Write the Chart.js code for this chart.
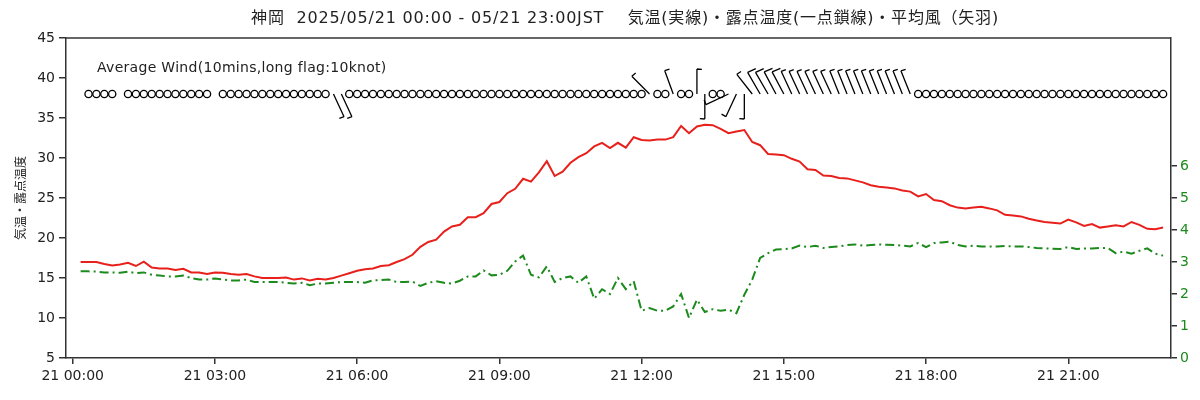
<!DOCTYPE html>
<html>
<head>
<meta charset="utf-8">
<script src="https://cdn.jsdelivr.net/npm/chart.js@4.4.1/dist/chart.umd.min.js"></script>
<style>
  html, body { margin: 0; padding: 0; background: #fff; }
</style>
</head>
<body>
<canvas id="myChart" width="1200" height="400"></canvas>
<script>
"use strict";

const ctx = document.getElementById("myChart");

const red = "#e8201c";
const green = "#1c8a1c";
const ink = "#222";
const fontFamily = "'DejaVu Sans', 'Noto Sans CJK JP', sans-serif";

// 10-minute observations, 00:10 .. 23:00 (one row per hour)
const temperature = [
  17.0, 17.0, 17.0, 16.75, 16.55, 16.7,
  16.9, 16.5, 17.05, 16.3, 16.2, 16.2,
  16.0, 16.15, 15.7, 15.7, 15.5, 15.7,
  15.65, 15.5, 15.4, 15.5, 15.2, 15.0,
  15.0, 15.0, 15.05, 14.8, 14.95, 14.7,
  14.9, 14.8, 15.0, 15.3, 15.6, 15.9,
  16.1, 16.2, 16.5, 16.6, 17.0, 17.35,
  17.9, 18.9, 19.5, 19.8, 20.8, 21.45,
  21.65, 22.6, 22.6, 23.1, 24.25, 24.5,
  25.6, 26.15, 27.4, 27.05, 28.2, 29.6,
  27.75, 28.3, 29.4, 30.1, 30.6, 31.45,
  31.9, 31.25, 31.9, 31.3, 32.6, 32.25,
  32.2, 32.3, 32.3, 32.6, 34.0, 33.1,
  33.95, 34.15, 34.1, 33.65, 33.1, 33.3,
  33.5, 32.0, 31.6, 30.5, 30.45, 30.35,
  29.9, 29.55, 28.6, 28.5, 27.8, 27.75,
  27.5, 27.45, 27.2, 26.95, 26.6, 26.4,
  26.3, 26.2, 25.95, 25.8, 25.2, 25.5,
  24.75, 24.6, 24.1, 23.8, 23.7, 23.8,
  23.9, 23.7, 23.45, 22.9, 22.8, 22.7,
  22.4, 22.2, 22.0, 21.9, 21.8, 22.3,
  21.95, 21.5, 21.75, 21.3, 21.45, 21.6,
  21.45, 22.0, 21.65, 21.15, 21.1, 21.3,
];

const dewPoint = [
  15.83, 15.83, 15.8, 15.7, 15.7, 15.65,
  15.8, 15.6, 15.7, 15.4, 15.3, 15.2,
  15.2, 15.3, 15.0, 14.8, 14.8, 14.95,
  14.8, 14.7, 14.7, 14.8, 14.5, 14.5,
  14.5, 14.5, 14.4, 14.3, 14.4, 14.1,
  14.3, 14.3, 14.4, 14.5, 14.5, 14.5,
  14.4, 14.7, 14.75, 14.8, 14.5, 14.5,
  14.55, 14.0, 14.4, 14.6, 14.4, 14.3,
  14.66, 15.2, 15.2, 15.95, 15.33, 15.41,
  15.9, 17.07, 17.8, 15.4, 15.07, 16.45,
  14.5, 15.0, 15.2, 14.4, 15.2, 12.4,
  13.6, 13.0, 15.0, 13.6, 14.6, 10.9,
  11.25, 10.9, 10.9, 11.45, 13.0, 10.0,
  12.3, 10.75, 11.1, 10.9, 11.05, 10.6,
  12.9, 14.8, 17.5, 18.1, 18.55, 18.6,
  18.7, 19.05, 18.87, 19.04, 18.75, 18.87,
  18.95, 19.12, 19.2, 19.04, 19.12, 19.2,
  19.16, 19.12, 19.04, 18.95, 19.37, 18.87,
  19.37, 19.45, 19.54, 19.12, 18.95, 19.04,
  18.95, 18.95, 18.95, 19.0, 18.95, 18.95,
  18.87, 18.75, 18.7, 18.66, 18.62, 18.87,
  18.62, 18.7, 18.7, 18.75, 18.75, 18.1,
  18.3, 18.04, 18.4, 18.7, 18.04, 17.8,
];

// average wind speed (knot): 0 = calm, null = missing
const windSpeed = [
  null, 0, 0, 0, 0, null,
  0, 0, 0, 0, 0, 0,
  0, 0, 0, 0, 0, null,
  0, 0, 0, 0, 0, 0,
  0, 0, 0, 0, 0, 0,
  0, 0, 5, 5, 0, 0,
  0, 0, 0, 0, 0, 0,
  0, 0, 0, 0, 0, 0,
  0, 0, 0, 0, 0, 0,
  0, 0, 0, 0, 0, 0,
  0, 0, 0, 0, 0, 0,
  0, 0, 0, 0, 0, 0,
  5, 0, 0, 5, 0, 0,
  5, 5, 0, 0, 5, 5,
  5, 5, 10, 10, 10, 10,
  5, 5, 5, 5, 5, 5,
  5, 5, 5, 5, 5, 5,
  5, 5, 5, 5, 0, 0,
  0, 0, 0, 0, 0, 0,
  0, 0, 0, 0, 0, 0,
  0, 0, 0, 0, 0, 0,
  0, 0, 0, 0, 0, 0,
  0, 0, 0, 0, 0, 0,
];

// direction the wind blows from (degrees), only where there is wind
const windDir = [];
windDir[32] = 155; windDir[33] = 155;
windDir[72] = 315; windDir[75] = 340;
windDir[78] = 0; windDir[79] = 180; windDir[82] = 245; windDir[83] = 205;
windDir[84] = 180; windDir[85] = 322;
const windDirLate = [330, 330, 332, 332,
  335, 335, 335, 335, 335, 335, 338, 338, 338, 338, 338, 338, 338, 338, 338, 338];
windDirLate.forEach((d, i) => { windDir[86 + i] = d; });

const times = temperature.map((_, i) => (i + 1) * 10); // minutes after 00:00
const xTicks = [0, 180, 360, 540, 720, 900, 1080, 1260];
const leftTicks = [5, 10, 15, 20, 25, 30, 35, 40, 45];
const rightTicks = [0, 1, 2, 3, 4, 5, 6];
const windLevel = 38;

const title = "神岡  2025/05/21 00:00 - 05/21 23:00JST    気温(実線)・露点温度(一点鎖線)・平均風（矢羽)";

const toPoints = (values) => values.map((v, i) => ({ x: times[i], y: v }));
const fmtTime = (m) => "21 " + String(Math.floor(m / 60)).padStart(2, "0") + ":00";

Chart.defaults.font.family = fontFamily;
Chart.defaults.color = ink;

const extras = {
  id: "extras",
  afterDraw(chart) {
    const { ctx: c, chartArea: a, scales: { x, y } } = chart;
    c.save();
    // top border of the frame
    c.strokeStyle = "#333";
    c.lineWidth = 1.5;
    c.beginPath();
    c.moveTo(a.left, a.top);
    c.lineTo(a.right, a.top);
    c.stroke();

    c.fillStyle = ink;
    c.textBaseline = "middle";
    c.font = "16px " + fontFamily;
    c.letterSpacing = "0.8px";
    c.textAlign = "center";
    c.fillText(title, 625, 19);

    c.font = "14px " + fontFamily;
    c.letterSpacing = "0.3px";
    c.textAlign = "left";
    c.fillText("Average Wind(10mins,long flag:10knot)", a.left + 31, 68);
    c.letterSpacing = "0px";

    // wind: circle for calm, barb otherwise
    const y0 = y.getPixelForValue(windLevel);
    c.strokeStyle = "#000";
    c.lineWidth = 1.3;
    windSpeed.forEach((s, i) => {
      if (s === null) return;
      const px = x.getPixelForValue(times[i]);
      c.beginPath();
      if (s === 0) {
        c.arc(px, y0, 3.6, 0, Math.PI * 2);
      } else {
        const d = windDir[i] * Math.PI / 180;
        const ex = px + 25 * Math.sin(d);
        const ey = y0 - 25 * Math.cos(d);
        c.moveTo(px, y0);
        c.lineTo(ex, ey);
        const f = d + 95 * Math.PI / 180;
        const fl = s >= 10 ? 9 : 5;
        c.moveTo(ex, ey);
        c.lineTo(ex + fl * Math.sin(f), ey - fl * Math.cos(f));
      }
      c.stroke();
    });
    c.restore();
  },
};

const config = {
  type: "line",
  data: {
    datasets: [
      {
        label: "気温",
        data: toPoints(temperature),
        borderColor: red,
        borderWidth: 2,
        pointRadius: 0,
        tension: 0,
        yAxisID: "y",
      },
      {
        label: "露点温度",
        data: toPoints(dewPoint),
        borderColor: green,
        borderWidth: 2,
        borderDash: [9, 4, 2, 4],
        pointRadius: 0,
        tension: 0,
        yAxisID: "y",
      },
    ],
  },
  options: {
    responsive: false,
    animation: false,
    layout: { padding: { top: 38 } },
    scales: {
      x: {
        type: "linear",
        min: -8.5,
        max: 1390,
        afterBuildTicks: (s) => { s.ticks = xTicks.map((v) => ({ value: v })); },
        afterFit: (s) => { s.height = 42; },
        grid: { drawOnChartArea: false, tickLength: 6, color: "#333", lineWidth: 1.5 },
        border: { color: "#333", width: 1.5 },
        ticks: { font: { size: 14 }, padding: 4, maxRotation: 0, callback: (v) => fmtTime(v) },
      },
      y: {
        position: "left",
        min: 5,
        max: 45,
        afterBuildTicks: (s) => { s.ticks = leftTicks.map((v) => ({ value: v })); },
        afterFit: (s) => { s.width = 66; },
        grid: { drawOnChartArea: false, tickLength: 7, color: "#333", lineWidth: 1.5 },
        border: { color: "#333", width: 1.5 },
        ticks: { font: { size: 14 }, padding: 4 },
        title: {
          display: true,
          text: "気温・露点温度",
          font: { size: 12, family: "'Noto Sans CJK JP'" },
          padding: { top: 13, bottom: 0 },
        },
      },
      y2: {
        position: "right",
        min: 0,
        max: 10,
        afterBuildTicks: (s) => { s.ticks = rightTicks.map((v) => ({ value: v })); },
        afterFit: (s) => { s.width = 29; },
        grid: { drawOnChartArea: false, tickLength: 6, color: "#333", lineWidth: 1.5 },
        border: { color: "#333", width: 1.5 },
        ticks: { font: { size: 14 }, color: green, padding: 3 },
      },
    },
    plugins: {
      legend: { display: false },
      tooltip: { enabled: false },
    },
  },
  plugins: [extras],
};

new Chart(ctx, config);
</script>
</body>
</html>
